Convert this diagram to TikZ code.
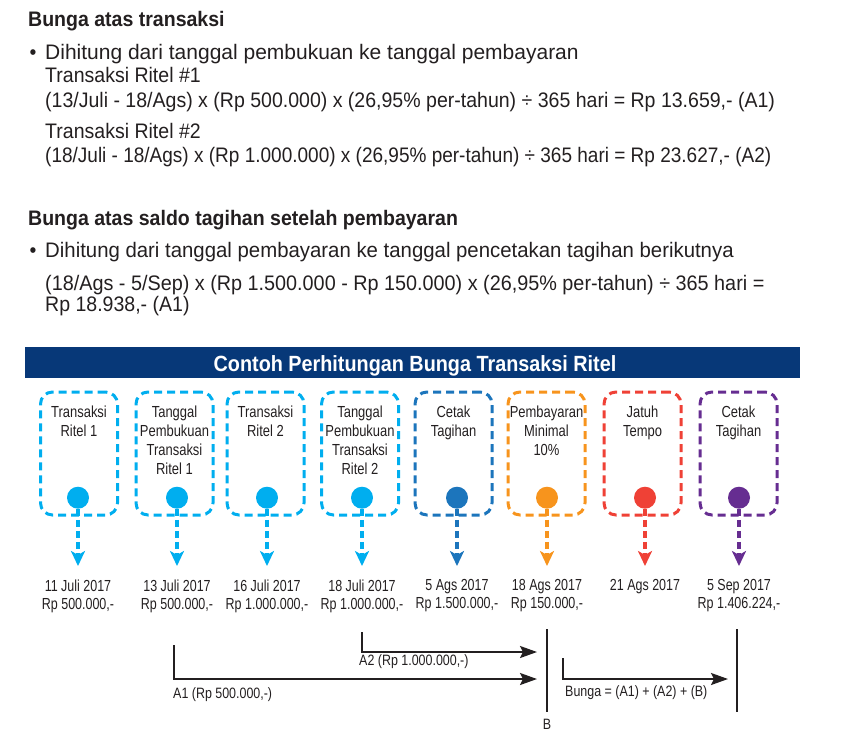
\documentclass[tikz,border=0pt]{standalone}
\usepackage{fontspec}
\setmainfont{Liberation Sans}
\newfontfamily\topfont[FakeStretch=0.93]{Liberation Sans}
\newfontfamily\topfontw[FakeStretch=1.0]{Liberation Sans}
\newfontfamily\topfontv[FakeStretch=0.97]{Liberation Sans}
\newfontfamily\topfontn[FakeStretch=0.905]{Liberation Sans}
\newfontfamily\topfontm[FakeStretch=0.943]{Liberation Sans}
\newfontfamily\titlefont[FakeStretch=0.90]{Liberation Sans}
\newfontfamily\boxfont[FakeStretch=0.81]{Liberation Sans}
\newfontfamily\datefont[FakeStretch=0.78]{Liberation Sans}
\newfontfamily\lblfont[FakeStretch=0.83]{Liberation Sans}
\usetikzlibrary{arrows.meta}
\definecolor{txt}{HTML}{231F20}
\definecolor{navy}{HTML}{073878}
\definecolor{lblue}{HTML}{00AEEF}
\definecolor{dblue}{HTML}{1C75BC}
\definecolor{orng}{HTML}{F7941D}
\definecolor{rred}{HTML}{EF4136}
\definecolor{purp}{HTML}{662D91}
\begin{document}
\begin{tikzpicture}[x=1pt,y=-1pt,
  body/.style={anchor=base west, inner sep=0, text=txt, font=\topfont\fontsize{21}{25}\selectfont},
  bodyw/.style={body, font=\topfontw\fontsize{21}{25}\selectfont},
  bodyv/.style={body, font=\topfontv\fontsize{21}{25}\selectfont},
  bodyn/.style={body, font=\topfontn\fontsize{21}{25}\selectfont},
  bodym/.style={body, font=\topfontm\fontsize{21}{25}\selectfont},
  head/.style={anchor=base west, inner sep=0, text=txt, font=\topfont\bfseries\fontsize{21}{25}\selectfont},
  tbox/.style={draw=#1, line width=3pt, dash pattern=on 8pt off 5pt, rounded corners=12pt, minimum width=77pt, minimum height=123pt, inner sep=0},
  dot/.style={circle, fill=#1, minimum size=22pt, inner sep=0},
  boxlbl/.style={anchor=north, align=center, inner sep=0, text=txt, font=\boxfont\fontsize{16}{19}\selectfont},
  datelbl/.style={anchor=north, align=center, inner sep=0, text=txt, font=\datefont\fontsize{16}{18}\selectfont},
  drop/.style={draw=#1, line width=3.5pt, dash pattern=on 7pt off 4pt, -{Stealth[length=15pt,width=14pt,inset=4pt]}},
  tl/.style={line width=2.2pt, draw=txt},
  tarr/.style={tl, -{Stealth[length=17pt,width=12pt,inset=3pt]}},
  lbl/.style={inner sep=0, text=txt, font=\lblfont\fontsize{15}{18}\selectfont}]
\useasboundingbox (0,0) rectangle (843,745);

% top text
\node[head] (h1) at (28,26) {Bunga atas transaksi};
\node[body] (bu1) at (29.5,59) {•};
\node[bodyw] (l1) at (45,59) {Dihitung dari tanggal pembukuan ke tanggal pembayaran};
\node[body] (l2) at (45,82.5) {Transaksi Ritel \#1};
\node[body] (l3) at (45,107) {(13/Juli - 18/Ags) x (Rp 500.000) x (26,95\% per-tahun) ÷ 365 hari = Rp 13.659,- (A1)};
\node[body] (l4) at (45,138) {Transaksi Ritel \#2};
\node[bodyn] (l5) at (45,162.5) {(18/Juli - 18/Ags) x (Rp 1.000.000) x (26,95\% per-tahun) ÷ 365 hari = Rp 23.627,- (A2)};
\node[head] (h2) at (28,225) {Bunga atas saldo tagihan setelah pembayaran};
\node[body] (bu2) at (29.5,257.5) {•};
\node[bodyv] (m1) at (45,257.5) {Dihitung dari tanggal pembayaran ke tanggal pencetakan tagihan berikutnya};
\node[bodym] (m2) at (45,290.5) {(18/Ags - 5/Sep) x (Rp 1.500.000 - Rp 150.000) x (26,95\% per-tahun) ÷ 365 hari =};
\node[body] (m3) at (45,311.5) {Rp 18.938,- (A1)};

% banner
\node[fill=navy, minimum width=775pt, minimum height=31pt, inner sep=0] (ban) at (412.5,362.5) {};
\node[anchor=base, inner sep=0, text=white, font=\titlefont\bfseries\fontsize{22}{26}\selectfont] (title) at (415,371) {Contoh Perhitungan Bunga Transaksi Ritel};

% timeline boxes
\foreach \i/\bx/\cx/\col/\txt/\dt in {
 1/79/78/lblue/{Transaksi\\Ritel 1}/{11 Juli 2017\\Rp 500.000,-},
 2/174.5/177/lblue/{Tanggal\\Pembukuan\\Transaksi\\Ritel 1}/{13 Juli 2017\\Rp 500.000,-},
 3/265.5/267/lblue/{Transaksi\\Ritel 2}/{16 Juli 2017\\Rp 1.000.000,-},
 4/360/362/lblue/{Tanggal\\Pembukuan\\Transaksi\\Ritel 2}/{18 Juli 2017\\Rp 1.000.000,-},
 5/453.5/457/dblue/{Cetak\\Tagihan}/{5 Ags 2017\\Rp 1.500.000,-},
 6/546.5/547/orng/{Pembayaran\\Minimal\\10\%}/{18 Ags 2017\\Rp 150.000,-},
 7/642.5/645/rred/{Jatuh\\Tempo}/{21 Ags 2017},
 8/738.5/739/purp/{Cetak\\Tagihan}/{5 Sep 2017\\Rp 1.406.224,-}}{
  \node[tbox=\col] (b\i) at (\bx,453.5) {};
  \node[boxlbl] (t\i) at (\bx,406) {\txt};
  \node[dot=\col] (c\i) at (\cx,497.7) {};
  \node[datelbl] (d\i) at (\cx,579.3) {\dt};
  \coordinate (e\i) at (\cx,566);
  \draw[drop=\col] (c\i.south) -- (e\i);
}

% bottom brackets
\coordinate (a1s) at (174,645); \coordinate (a1e) at (537,679);
\draw[tarr] (a1s) |- (a1e);
\coordinate (a2s) at (362,632); \coordinate (a2e) at (537,652);
\draw[tarr] (a2s) |- (a2e);
\coordinate (bt) at (547,629); \coordinate (bb) at (547,712);
\draw[tl] (bt) -- (bb);
\coordinate (bs) at (563,658); \coordinate (be) at (728,679);
\draw[tarr] (bs) |- (be);
\coordinate (rt) at (737,629); \coordinate (rb) at (737,712);
\draw[tl] (rt) -- (rb);
\node[lbl, anchor=base] (blbl) at (547,729.5) {B};
\node[lbl, anchor=base west] (a2l) at (359,665) {A2 (Rp 1.000.000,-)};
\node[lbl, anchor=base west] (a1l) at (173,698) {A1 (Rp 500.000,-)};
\node[lbl, anchor=base west] (bgl) at (565,696) {Bunga = (A1) + (A2) + (B)};
\end{tikzpicture}
\end{document}
